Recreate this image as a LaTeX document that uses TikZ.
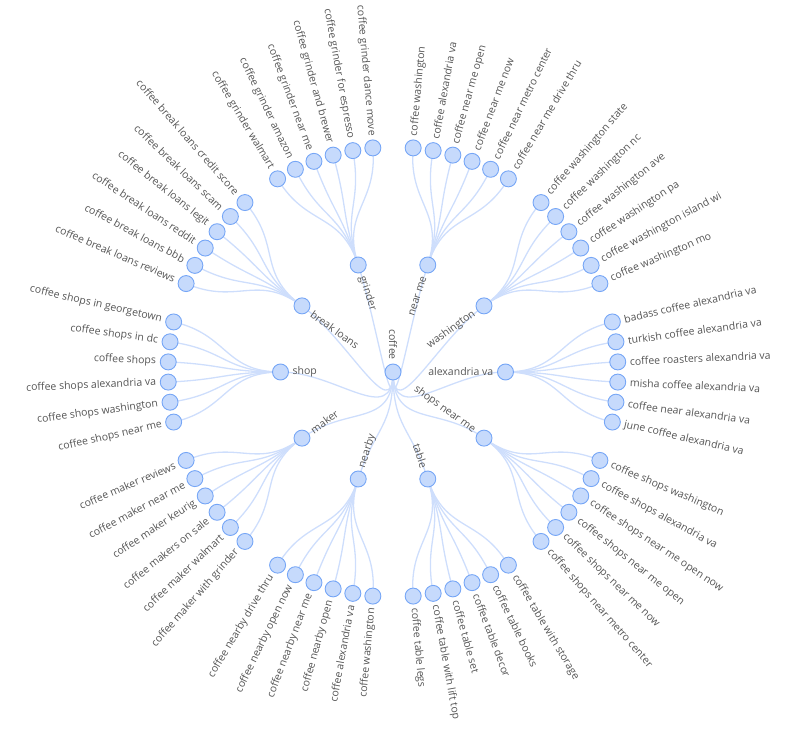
\documentclass[tikz,border=0pt]{standalone}
\usepackage{fontspec}
\setmainfont{Open Sans}
\definecolor{nodeblue}{RGB}{198,218,252}
\definecolor{rimblue}{RGB}{118,166,246}
\definecolor{linkblue}{RGB}{206,222,252}
\definecolor{labelgray}{RGB}{85,85,85}
\usepackage{tikz}
\usetikzlibrary{positioning, backgrounds}

\begin{document}
\begin{tikzpicture}[x=1pt,y=1pt,
        kw/.style={circle,draw=rimblue,fill=nodeblue,line width=0.9pt,
                   minimum size=16pt,inner sep=0pt},
        link/.style={draw=linkblue,line width=1.3pt},
        lbl/.style={text=labelgray,inner sep=0pt,
                    font=\fontsize{10.5}{12}\selectfont}]
  \useasboundingbox (-393,-375) rectangle (408,372);
  % root
  \node[kw] (coffee) at (0,0) {};
  \node[lbl,anchor=east,rotate=-90] at (0,12) {coffee};
  % groups and their leaves, leaves listed clockwise
  \foreach \g/\ga/\gname/\leaves in {
      1/108/grinder/{coffee grinder walmart,coffee grinder amazon,coffee grinder near me,coffee grinder and brewer,coffee grinder for espresso,coffee grinder dance move},
      2/72/near me/{coffee washington,coffee alexandria va,coffee near me open,coffee near me now,coffee near metro center,coffee near me drive thru},
      3/36/washington/{coffee washington state,coffee washington nc,coffee washington ave,coffee washington pa,coffee washington island wi,coffee washington mo},
      4/0/alexandria va/{badass coffee alexandria va,turkish coffee alexandria va,coffee roasters alexandria va,misha coffee alexandria va,coffee near alexandria va,june coffee alexandria va},
      5/-36/shops near me/{coffee shops washington,coffee shops alexandria va,coffee shops near me open now,coffee shops near me open,coffee shops near me now,coffee shops near metro center},
      6/-72/table/{coffee table with storage,coffee table books,coffee table decor,coffee table set,coffee table with lift top,coffee table legs},
      7/-108/nearby/{coffee washington,coffee alexandria va,coffee nearby open,coffee nearby near me,coffee nearby open now,coffee nearby drive thru},
      8/-144/maker/{coffee maker with grinder,coffee maker walmart,coffee makers on sale,coffee maker keurig,coffee maker near me,coffee maker reviews},
      9/180/shop/{coffee shops near me,coffee shops washington,coffee shops alexandria va,coffee shops,coffee shops in dc,coffee shops in georgetown},
      10/144/break loans/{coffee break loans reviews,coffee break loans bbb,coffee break loans reddit,coffee break loans legit,coffee break loans scam,coffee break loans credit score}}{
    \node[kw] (g\g) at (\ga:112.5) {};
    \pgfmathsetmacro\rside{cos(\ga)>0}
    \ifdim\rside pt>0.5pt
      \node[lbl,anchor=east,rotate=\ga] at (\ga:100.5) {\gname};
    \else
      \node[lbl,anchor=west,rotate=\ga+180] at (\ga:100.5) {\gname};
    \fi
    \begin{scope}[on background layer]
      \draw[link] (coffee.center) .. controls (-90:56.25) and (\ga:56.25) .. (g\g.center);
    \end{scope}
    \foreach \leaf [count=\k from 0] in \leaves {
      \pgfmathsetmacro\la{\ga+(2.5-\k)*360/70}
      \node[kw] (l\g-\k) at (\la:225) {};
      \pgfmathsetmacro\lside{cos(\la)>0}
      \ifdim\lside pt>0.5pt
        \node[lbl,anchor=west,rotate=\la] at (\la:237) {\leaf};
      \else
        \node[lbl,anchor=east,rotate=\la+180] at (\la:237) {\leaf};
      \fi
      \begin{scope}[on background layer]
        \draw[link] (g\g.center) .. controls (\ga:168.75) and (\la:168.75) .. (l\g-\k.center);
      \end{scope}
    }
  }
\end{tikzpicture}
\end{document}
